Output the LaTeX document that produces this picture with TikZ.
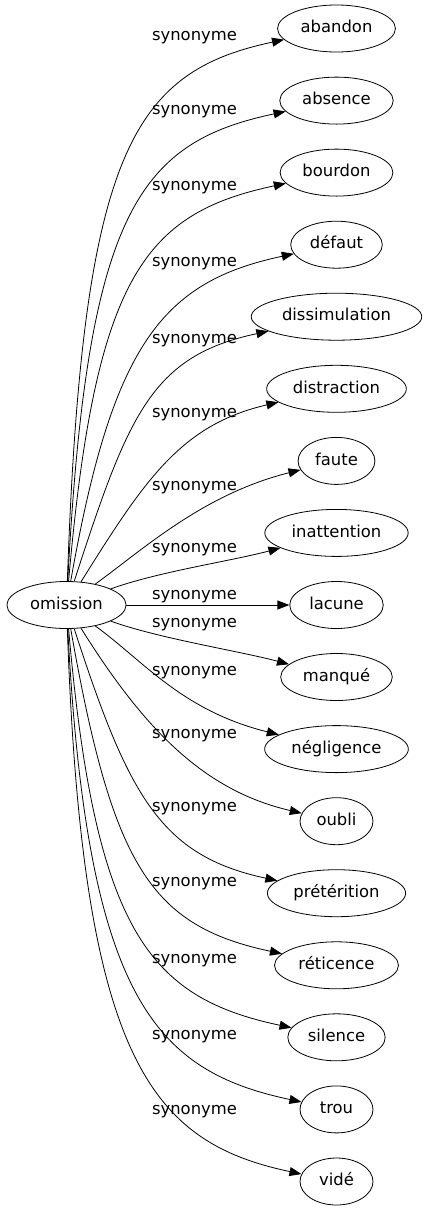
\documentclass[tikz,border=0pt]{standalone}
\usepackage{fontspec}
\setmainfont{DejaVu Sans}
\usetikzlibrary{arrows.meta,shapes.geometric}

\tikzset{
  word/.style={draw, ellipse, line width=0.8bp, minimum width=73bp, minimum height=47bp,
    inner xsep=5.8bp, text height=12bp, text depth=3.5bp},
  rel/.style={anchor=base, inner sep=0pt},
  syn/.style={-{Triangle[length=12bp,width=9bp]}, line width=0.8bp},
}

\begin{document}
\begin{tikzpicture}[x=1bp, y=1bp, font=\fontsize{16.4bp}{19bp}\selectfont]
  \useasboundingbox (0,0) rectangle (426,-1211);
  \node[word] (omission) at (66.5,-605) {omission};
  \node[word] (abandon) at (336.5,-28.5) {abandon};
  \node[word] (absence) at (336.5,-100.6) {absence};
  \node[word] (bourdon) at (336.5,-172.6) {bourdon};
  \node[word] (defaut) at (336.5,-244.7) {défaut};
  \node[word] (dissimulation) at (336.5,-316.7) {dissimulation};
  \node[word] (distraction) at (336.5,-388.8) {distraction};
  \node[word] (faute) at (336.5,-460.9) {faute};
  \node[word] (inattention) at (336.5,-532.9) {inattention};
  \node[word] (lacune) at (336.5,-605) {lacune};
  \node[word] (manque) at (336.5,-677) {manqué};
  \node[word] (negligence) at (336.5,-749.1) {négligence};
  \node[word] (oubli) at (336.5,-821.2) {oubli};
  \node[word] (preterition) at (336.5,-893.2) {prétérition};
  \node[word] (reticence) at (336.5,-965.3) {réticence};
  \node[word] (silence) at (336.5,-1037.3) {silence};
  \node[word] (trou) at (336.5,-1109.4) {trou};
  \node[word] (vide) at (336.5,-1181.5) {vidé};
  % Edge labels
  \node[rel] (s1) at (194.5,-40) {synonyme};
  \node[rel] (s2) at (194.5,-114) {synonyme};
  \node[rel] (s3) at (194.5,-190) {synonyme};
  \node[rel] (s4) at (194.5,-266) {synonyme};
  \node[rel] (s5) at (194.5,-343) {synonyme};
  \node[rel] (s6) at (194.5,-417) {synonyme};
  \node[rel] (s7) at (194.5,-490) {synonyme};
  \node[rel] (s8) at (194.5,-552) {synonyme};
  \node[rel] (s9) at (194.5,-599) {synonyme};
  \node[rel] (s10) at (194.5,-627) {synonyme};
  \node[rel] (s11) at (194.5,-675) {synonyme};
  \node[rel] (s12) at (194.5,-738) {synonyme};
  \node[rel] (s13) at (194.5,-811) {synonyme};
  \node[rel] (s14) at (194.5,-886) {synonyme};
  \node[rel] (s15) at (194.5,-963) {synonyme};
  \node[rel] (s16) at (194.5,-1039) {synonyme};
  \node[rel] (s17) at (194.5,-1114) {synonyme};
  % Draw the synonym edges
  \draw[syn] (omission) to[out=88, in=192, out distance=430bp, in distance=155bp] (abandon);
  \draw[syn] (omission) to[out=87, in=192, out distance=370bp, in distance=150bp] (absence);
  \draw[syn] (omission) to[out=85, in=192, out distance=305bp, in distance=145bp] (bourdon);
  \draw[syn] (omission) to[out=80, in=192, out distance=240bp, in distance=135bp] (defaut);
  \draw[syn] (omission) to[out=72, in=192, out distance=175bp, in distance=120bp] (dissimulation);
  \draw[syn] (omission) to[out=58, in=193, out distance=120bp, in distance=100bp] (distraction);
  \draw[syn] (omission) to[out=36, in=194, out distance=60bp, in distance=100bp] (faute);
  \draw[syn] (omission) to[out=20, in=195, out distance=50bp, in distance=50bp] (inattention);
  \draw[syn] (omission) -- (lacune);
  \draw[syn] (omission) to[out=-20, in=165, out distance=50bp, in distance=50bp] (manque);
  \draw[syn] (omission) to[out=-36, in=166, out distance=60bp, in distance=100bp] (negligence);
  \draw[syn] (omission) to[out=-58, in=167, out distance=120bp, in distance=100bp] (oubli);
  \draw[syn] (omission) to[out=-72, in=168, out distance=175bp, in distance=120bp] (preterition);
  \draw[syn] (omission) to[out=-80, in=168, out distance=240bp, in distance=135bp] (reticence);
  \draw[syn] (omission) to[out=-85, in=168, out distance=305bp, in distance=145bp] (silence);
  \draw[syn] (omission) to[out=-87, in=168, out distance=370bp, in distance=150bp] (trou);
  \draw[syn] (omission) to[out=-88, in=168, out distance=430bp, in distance=155bp] (vide);
\end{tikzpicture}
\end{document}
